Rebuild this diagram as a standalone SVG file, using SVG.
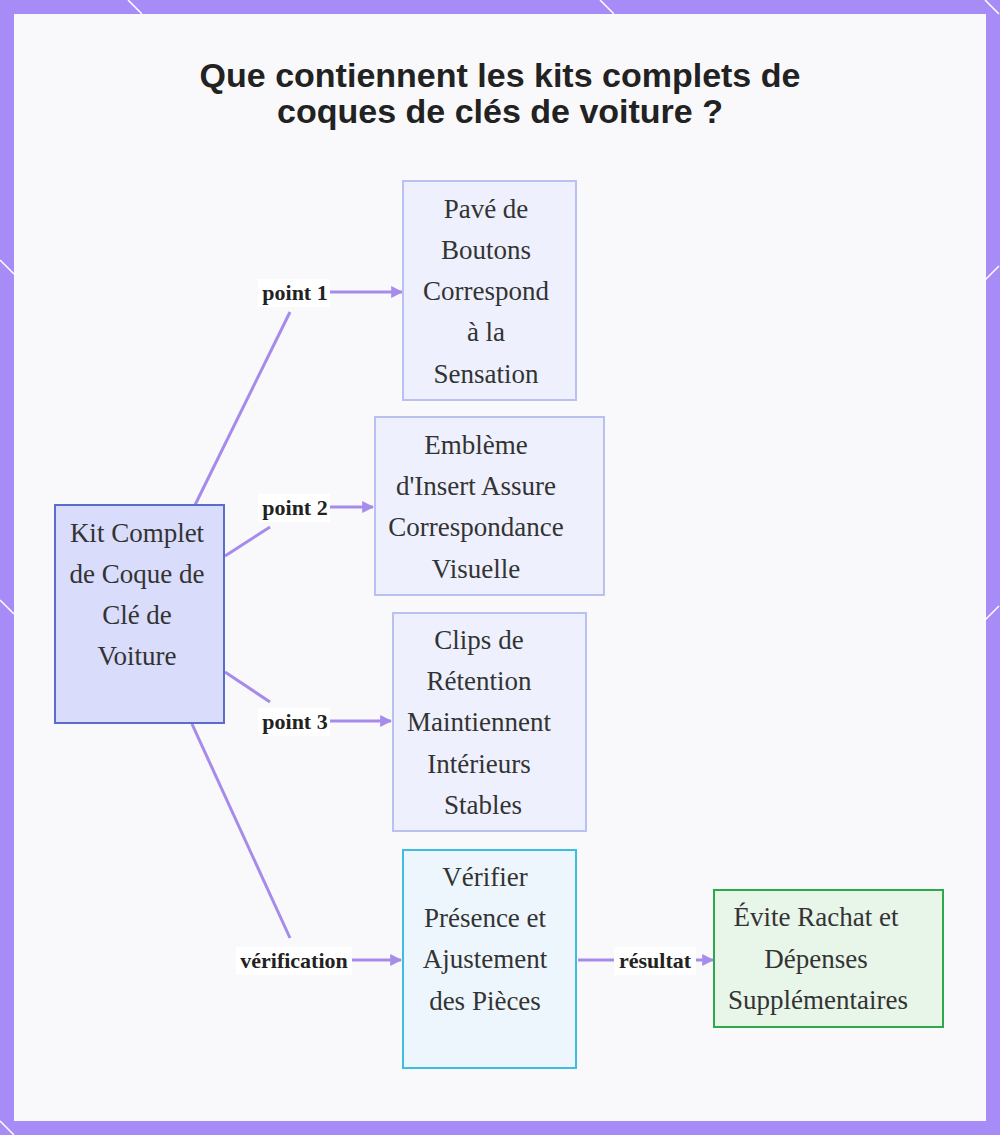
<svg xmlns="http://www.w3.org/2000/svg" width="1000" height="1135" viewBox="0 0 1000 1135">
<defs>
<style>
.t{font-family:"Liberation Serif",serif;font-size:27px;fill:#333;text-anchor:middle}
.l{font-family:"Liberation Serif",serif;font-size:22px;font-weight:bold;fill:#222;text-anchor:middle}
.c{stroke:#a78bea;stroke-width:3;fill:none}
.bg{fill:#fff}
</style>
<marker id="a" viewBox="0 0 10 10" refX="9" refY="5" markerWidth="4" markerHeight="4" orient="auto"><path d="M0,0L10,5L0,10z" fill="#a78bea"/></marker>
</defs>
<rect width="1000" height="1135" fill="#a78bf7"/>
<rect x="14" y="14" width="972" height="1107" fill="#f9f9fb"/>
<g stroke="#fff" stroke-width="1.5">
<path d="M128,0L142,14M600,0L614,14M985,0L999,14M0,260L14,274M0,600L14,614M0,1121L14,1135M985,280L999,266M985,620L999,606"/>
</g>
<text x="500" y="87" font-family="Liberation Sans,sans-serif" font-size="34" font-weight="bold" fill="#222" text-anchor="middle">Que contiennent les kits complets de</text>
<text x="500" y="123" font-family="Liberation Sans,sans-serif" font-size="34" font-weight="bold" fill="#222" text-anchor="middle">coques de clés de voiture ?</text>
<g id="connectors">
<path class="c" d="M195,505L290,312"/>
<path class="c" d="M330,292H402" marker-end="url(#a)"/>
<path class="c" d="M225,556L270,527"/>
<path class="c" d="M330,507H373" marker-end="url(#a)"/>
<path class="c" d="M225,672L270,702"/>
<path class="c" d="M330,721H391" marker-end="url(#a)"/>
<path class="c" d="M192,724L290,938"/>
<path class="c" d="M350,960H401" marker-end="url(#a)"/>
<path class="c" d="M578,960H614"/>
<path class="c" d="M694,960H713" marker-end="url(#a)"/>
<rect x="258" y="279" width="72" height="28" class="bg"/><text class="l" x="295" y="300">point 1</text>
<rect x="258" y="494" width="72" height="28" class="bg"/><text class="l" x="295" y="515">point 2</text>
<rect x="258" y="708" width="72" height="28" class="bg"/><text class="l" x="295" y="729">point 3</text>
<rect x="236" y="947" width="116" height="28" class="bg"/><text class="l" x="294" y="968">vérification</text>
<rect x="614" y="947" width="82" height="28" class="bg"/><text class="l" x="655" y="968">résultat</text>
</g>
<g id="n0"><rect x="55" y="505" width="169" height="218" fill="#d9dcfa" stroke="#5b6ccf" stroke-width="2"/>
<text class="t" x="137" y="542">Kit Complet</text><text class="t" x="137" y="583">de Coque de</text><text class="t" x="137" y="624">Clé de</text><text class="t" x="137" y="665">Voiture</text></g>
<g id="n1"><rect x="403" y="181" width="173" height="219" fill="#eef0fd" stroke="#b9c1f2" stroke-width="2"/>
<text class="t" x="486" y="218">Pavé de</text><text class="t" x="486" y="259">Boutons</text><text class="t" x="486" y="300">Correspond</text><text class="t" x="486" y="341">à la</text><text class="t" x="486" y="383">Sensation</text></g>
<g id="n2"><rect x="375" y="417" width="229" height="178" fill="#eef0fd" stroke="#b9c1f2" stroke-width="2"/>
<text class="t" x="476" y="454">Emblème</text><text class="t" x="476" y="495">d'Insert Assure</text><text class="t" x="476" y="536">Correspondance</text><text class="t" x="476" y="578">Visuelle</text></g>
<g id="n3"><rect x="393" y="613" width="193" height="218" fill="#eef0fd" stroke="#b9c1f2" stroke-width="2"/>
<text class="t" x="479" y="649">Clips de</text><text class="t" x="479" y="690">Rétention</text><text class="t" x="479" y="731">Maintiennent</text><text class="t" x="479" y="773">Intérieurs</text><text class="t" x="483" y="814">Stables</text></g>
<g id="n4"><rect x="403" y="850" width="173" height="218" fill="#eef6fd" stroke="#3dbde0" stroke-width="2"/>
<text class="t" x="485" y="886">Vérifier</text><text class="t" x="485" y="927">Présence et</text><text class="t" x="485" y="968">Ajustement</text><text class="t" x="485" y="1010">des Pièces</text></g>
<g id="n5"><rect x="714" y="890" width="229" height="137" fill="#e8f5e9" stroke="#2ea84a" stroke-width="2"/>
<text class="t" x="816" y="926">Évite Rachat et</text><text class="t" x="816" y="968">Dépenses</text><text class="t" x="818" y="1009">Supplémentaires</text></g>
</svg>
